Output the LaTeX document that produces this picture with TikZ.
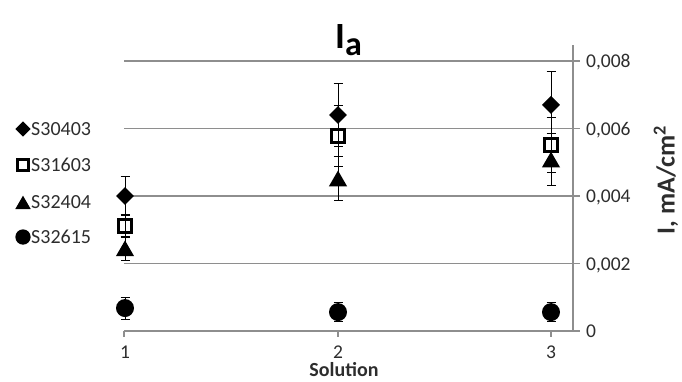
\documentclass[tikz,border=0pt]{standalone}
\usepackage{fontspec}
\setmainfont{Carlito}
\usetikzlibrary{shapes.geometric,arrows.meta}
\definecolor{axisgray}{RGB}{142,142,142}
\definecolor{labelgray}{RGB}{45,45,45}

\begin{document}
\begin{tikzpicture}[x=1pt,y=-1pt,
    axisline/.style={axisgray,line width=1.3pt},
    errbar/.style={black,line width=0.9pt,{Bar[width=9pt]}-{Bar[width=9pt]}},
    ticklabel/.style={font=\fontsize{19.5}{21}\selectfont,text=labelgray,inner sep=0pt},
    legtext/.style={font=\fontsize{20}{22}\selectfont,text=labelgray,inner sep=0pt,anchor=base west},
    dmark/.style={diamond,fill=black,inner sep=0pt,minimum width=18pt,minimum height=18pt},
    smark/.style={rectangle,draw=black,line width=3.4pt,inner sep=0pt,minimum size=13pt},
    tmark/.style={regular polygon,regular polygon sides=3,fill=black,inner sep=0pt,minimum size=21pt,yshift=-2.6pt},
    cmark/.style={circle,fill=black,inner sep=0pt,minimum size=18pt}]
    \useasboundingbox (0,0) rectangle (682,381);

    \foreach \g in {2,4,6,8}
        \draw[axisline] (124,331-33.75*\g) -- (580,331-33.75*\g);
    \draw[axisline] (124,331) -- (580,331);
    \draw[axisline] (573,45) -- (573,331);
    \foreach \t in {124,338,551}
        \draw[axisline] (\t,331) -- (\t,337);

    \node[ticklabel,anchor=base west] (y0) at (586,337.5) {0};
    \node[ticklabel,anchor=base west] (y2) at (586,270) {0,002};
    \node[ticklabel,anchor=base west] (y4) at (586,202.5) {0,004};
    \node[ticklabel,anchor=base west] (y6) at (586,135) {0,006};
    \node[ticklabel,anchor=base west] (y8) at (586,67.5) {0,008};

    \node[ticklabel,anchor=base] (x1) at (125,358) {1};
    \node[ticklabel,anchor=base] (x2) at (338,358) {2};
    \node[ticklabel,anchor=base] (x3) at (551,358) {3};

    \node[inner sep=0pt,anchor=base west] (title) at (335,48)
        {\fontsize{37}{40}\selectfont\bfseries I\raisebox{-7pt}{\fontsize{34}{36}\selectfont a}};
    \node[inner sep=0pt,anchor=base,font=\fontsize{20}{22}\selectfont\bfseries,text=labelgray] (xlab) at (344,376) {Solution};
    \node[inner sep=0pt,rotate=90,font=\fontsize{26}{28}\selectfont\bfseries,text=labelgray] (ylab) at (666,180) {I, mA/cm\textsuperscript{2}};

    \begin{scope}[shift={(-88,331)},x=213pt,y=33.75pt]
        \foreach \c/\v/\e in {1/4.0/0.59, 2/6.4/0.95, 3/6.7/1.0} {
            \draw[errbar] (\c,\v-\e) -- (\c,\v+\e);
            \node[dmark] (d\c) at (\c,\v) {};
        }
        \foreach \c/\v/\e in {1/3.11/0.36, 2/5.78/0.92, 3/5.51/0.83} {
            \draw[errbar] (\c,\v-\e) -- (\c,\v+\e);
            \node[smark] (s\c) at (\c,\v) {};
        }
        \foreach \c/\v/\e in {1/2.45/0.36, 2/4.52/0.67, 3/5.08/0.79} {
            \draw[errbar] (\c,\v-\e) -- (\c,\v+\e);
            \node[tmark] (t\c) at (\c,\v) {};
        }
        \foreach \c/\v/\e in {1/0.68/0.34, 2/0.56/0.3, 3/0.56/0.3} {
            \draw[errbar] (\c,\v-\e) -- (\c,\v+\e);
            \node[cmark] (c\c) at (\c,\v) {};
        }
    \end{scope}

    \node[dmark,scale=0.85] (ld) at (23,129) {};
    \node[smark,scale=0.85] (ls) at (23,165) {};
    \node[tmark,scale=0.85] (lt) at (23,202) {};
    \node[cmark,scale=0.85] (lc) at (23,237) {};
    \node[legtext] (l1) at (31,135.5) {S30403};
    \node[legtext] (l2) at (31,171.5) {S31603};
    \node[legtext] (l3) at (31,208.5) {S32404};
    \node[legtext] (l4) at (31,243.5) {S32615};
\end{tikzpicture}
\end{document}
